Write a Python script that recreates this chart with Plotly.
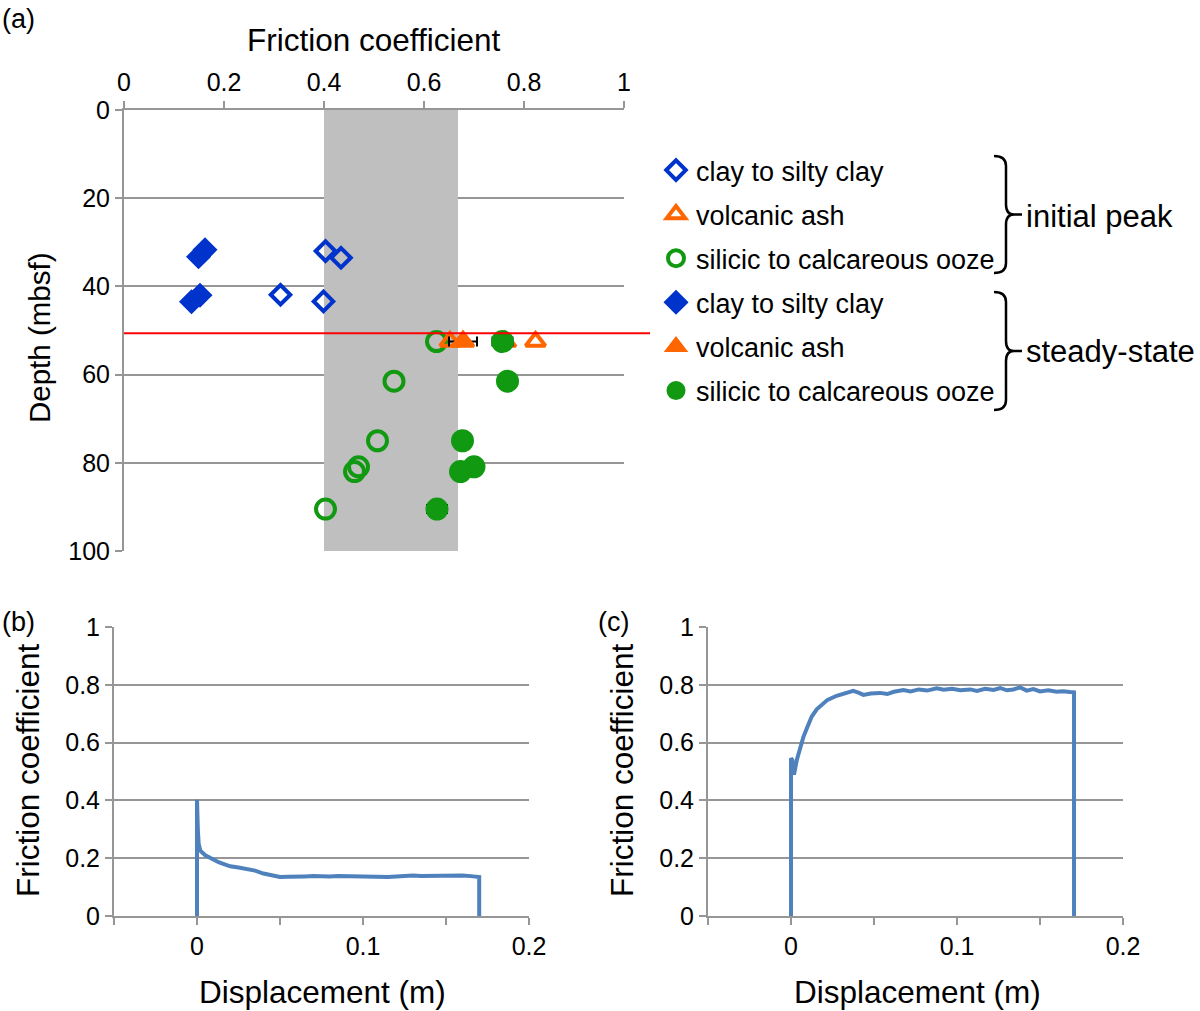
import plotly.graph_objects as go

W, H = 1200, 1011
def px(x): return x / W
def py(y): return 1 - y / H

# ---------------- data: panel (a) ----------------
clay_depth_init = [32.0, 33.5, 41.9, 43.4]
clay_mu_init = [0.403, 0.434, 0.313, 0.399]
clay_depth_ss = [31.7, 33.3, 42.0, 43.5]
clay_mu_ss = [0.162, 0.149, 0.152, 0.135]

ash_depth_init = [52.5, 52.5]
ash_mu_init = [0.652, 0.823]
ash_depth_ss = [52.5, 52.5]
ash_mu_ss = [0.678, 0.762]
ash_err_ss = [0.028, 0.0]

ooze_depth = [52.5, 61.5, 75.0, 80.9, 82.0, 90.5]
ooze_mu_init = [0.625, 0.540, 0.507, 0.469, 0.461, 0.403]
ooze_mu_ss = [0.757, 0.767, 0.677, 0.700, 0.673, 0.626]
ooze_err_ss = [0.02, 0.0, 0.0, 0.0, 0.0, 0.02]

shade_range = [0.4, 0.668]
boundary_depth = 50.6

# ---------------- data: panel (b) ----------------
disp_b = [0, 0, 0.0005, 0.001, 0.002, 0.005, 0.008, 0.01, 0.013, 0.015, 0.018, 0.02,
          0.025, 0.03, 0.035, 0.04, 0.045, 0.05, 0.055, 0.06, 0.065, 0.07, 0.075, 0.08,
          0.085, 0.09, 0.095, 0.10, 0.105, 0.11, 0.115, 0.12, 0.125, 0.13, 0.135, 0.14,
          0.145, 0.15, 0.155, 0.16, 0.165, 0.170, 0.170]
fric_b = [0, 0.402, 0.30, 0.25, 0.226, 0.21, 0.200, 0.194, 0.186, 0.182, 0.176, 0.172,
          0.168, 0.163, 0.157, 0.147, 0.140, 0.135, 0.136, 0.135, 0.137, 0.138, 0.136, 0.137,
          0.138, 0.137, 0.138, 0.137, 0.135, 0.134, 0.135, 0.137, 0.139, 0.140, 0.138, 0.139,
          0.140, 0.140, 0.141, 0.140, 0.138, 0.135, 0]

# ---------------- data: panel (c) ----------------
disp_c = [0, 0, 0.0008, 0.0018, 0.0035, 0.0055, 0.0075, 0.0095, 0.0125, 0.0155, 0.0185,
          0.022, 0.0275, 0.033, 0.0375, 0.041, 0.0436, 0.048, 0.0536, 0.058, 0.062, 0.0677,
          0.072, 0.077, 0.082, 0.0878, 0.092, 0.097, 0.102, 0.108, 0.112, 0.117, 0.122,
          0.126, 0.130, 0.134, 0.138, 0.142, 0.146, 0.150, 0.155, 0.160, 0.164, 0.168,
          0.1705, 0.1705]
fric_c = [0, 0.546, 0.54, 0.489, 0.54, 0.586, 0.62, 0.649, 0.69, 0.715, 0.732,
          0.748, 0.762, 0.770, 0.779, 0.772, 0.765, 0.770, 0.772, 0.768, 0.776, 0.782,
          0.777, 0.784, 0.780, 0.788, 0.783, 0.786, 0.781, 0.784, 0.779, 0.786, 0.782,
          0.789, 0.781, 0.784, 0.791, 0.780, 0.785, 0.777, 0.781, 0.776, 0.778, 0.775,
          0.774, 0]

BLUE = "#0033cc"
ORANGE = "#ff6600"
GREEN = "#119911"
LINEBLUE = "#4f81bd"
GRID = "#969696"
FONT = "Liberation Sans, Arial, sans-serif"

fig = go.Figure()

def add_pts(name, x, y, symbol, color, filled, rank, err=None, size=17):
    marker = dict(symbol=symbol, size=size,
                  color=color if filled else "rgba(0,0,0,0)",
                  line=dict(color=color, width=3 if filled else 4))
    kw = {}
    if err is not None:
        kw["error_x"] = dict(type="data", array=err, color="black", thickness=2, width=5)
    fig.add_trace(go.Scatter(x=x, y=y, mode="markers", name=name, marker=marker,
                             legendgroup=str(rank), legendrank=rank,
                             xaxis="x", yaxis="y", cliponaxis=False, **kw))

add_pts("clay to silty clay", clay_mu_init, clay_depth_init, "diamond", BLUE, False, 1, size=15)
add_pts("silicic to calcareous ooze", ooze_mu_init, ooze_depth, "circle", GREEN, False, 3, size=19)
add_pts("volcanic ash", ash_mu_init, ash_depth_init, "triangle-up", ORANGE, False, 2, size=17)
add_pts("clay to silty clay", clay_mu_ss, clay_depth_ss, "diamond", BLUE, True, 4, size=16)
add_pts("volcanic ash", ash_mu_ss, ash_depth_ss, "triangle-up", ORANGE, True, 5, err=ash_err_ss, size=19)
add_pts("silicic to calcareous ooze", ooze_mu_ss, ooze_depth, "circle", GREEN, True, 6, err=ooze_err_ss, size=20)

fig.add_trace(go.Scatter(x=disp_b, y=fric_b, mode="lines", line=dict(color=LINEBLUE, width=4),
                         xaxis="x2", yaxis="y2", showlegend=False))
fig.add_trace(go.Scatter(x=disp_c, y=fric_c, mode="lines", line=dict(color=LINEBLUE, width=4),
                         xaxis="x3", yaxis="y3", showlegend=False))

tickfont = dict(family=FONT, size=25, color="black")
axis_common = dict(showline=True, linecolor=GRID, linewidth=2, ticks="outside", ticklen=7,
                   tickcolor=GRID, tickwidth=2, tickfont=tickfont, zeroline=False,
                   automargin=False)

disp_ticks = [-0.05, 0, 0.05, 0.1, 0.15, 0.2]
disp_labels = ["", "0", "", "0.1", "", "0.2"]

fig.update_layout(
    template="none",
    width=W, height=H, autosize=False,
    margin=dict(l=0, r=0, t=0, b=0, pad=0),
    paper_bgcolor="white", plot_bgcolor="white",
    font=dict(family=FONT, color="black"),
    xaxis=dict(domain=[px(124), px(624)], range=[0, 1], dtick=0.2, side="top",
               anchor="y", showgrid=False, **axis_common),
    yaxis=dict(domain=[py(551), py(110)], range=[100, 0], dtick=20, anchor="x",
               showgrid=True, gridcolor=GRID, gridwidth=2, **axis_common),
    xaxis2=dict(domain=[px(114), px(529)], range=[-0.05, 0.2], tickvals=disp_ticks,
                ticktext=disp_labels, anchor="y2", showgrid=False, **axis_common),
    yaxis2=dict(domain=[py(916), py(627)], range=[0, 1], dtick=0.2, anchor="x2",
                showgrid=True, gridcolor=GRID, gridwidth=2, **axis_common),
    xaxis3=dict(domain=[px(708), px(1123)], range=[-0.05, 0.2], tickvals=disp_ticks,
                ticktext=disp_labels, anchor="y3", showgrid=False, **axis_common),
    yaxis3=dict(domain=[py(916), py(627)], range=[0, 1], dtick=0.2, anchor="x3",
                showgrid=True, gridcolor=GRID, gridwidth=2, **axis_common),
    showlegend=True,
    legend=dict(x=px(656), y=py(146), xanchor="left", yanchor="top",
                font=dict(family=FONT, size=27, color="black"),
                traceorder="grouped", tracegroupgap=6, bgcolor="rgba(0,0,0,0)",
                borderwidth=0, itemsizing="trace"),
)

shapes = [
    dict(type="rect", xref="x", yref="y", x0=shade_range[0], x1=shade_range[1], y0=0, y1=100,
         fillcolor="#bfbfbf", line=dict(width=0), layer="between"),
    dict(type="line", xref="paper", yref="y", x0=px(124), x1=px(650), y0=boundary_depth,
         y1=boundary_depth, line=dict(color="red", width=2)),
]

def brace(top, bottom, xe=994, xs=1006, xt=1022):
    mid = (top + bottom) / 2
    r = 10
    p = (f"M {px(xe)},{py(top)} Q {px(xs)},{py(top)} {px(xs)},{py(top + r)} "
         f"L {px(xs)},{py(mid - r)} Q {px(xs)},{py(mid)} {px(xs + 8)},{py(mid)} "
         f"L {px(xt)},{py(mid)} M {px(xs + 8)},{py(mid)} Q {px(xs)},{py(mid)} {px(xs)},{py(mid + r)} "
         f"L {px(xs)},{py(bottom - r)} Q {px(xs)},{py(bottom)} {px(xe)},{py(bottom)}")
    return dict(type="path", xref="paper", yref="paper", path=p,
                line=dict(color="black", width=2.5))

shapes.append(brace(156, 273))
shapes.append(brace(292, 410))
fig.update_layout(shapes=shapes)

def ann(text, x, y, size=27, xanchor="center", angle=0):
    return dict(text=text, x=x, y=y, xref="paper", yref="paper", showarrow=False,
                xanchor=xanchor, yanchor="middle", textangle=angle,
                font=dict(family=FONT, size=size, color="black"))

fig.update_layout(annotations=[
    ann("(a)", px(0), py(19), xanchor="left"),
    ann("(b)", px(0), py(622), xanchor="left"),
    ann("(c)", px(596), py(622), xanchor="left"),
    ann("Friction coefficient", px(374), py(40), size=31.5),
    ann("Depth (mbsf)", px(40), py(338), size=29.5, angle=-90),
    ann("Friction coefficient", px(28), py(770), size=31.5, angle=-90),
    ann("Friction coefficient", px(622), py(770), size=31.5, angle=-90),
    ann("Displacement (m)", px(322), py(992), size=31.5),
    ann("Displacement (m)", px(917), py(992), size=31.5),
    ann("initial peak", px(1024), py(216), size=31),
    ann("steady-state", px(1024), py(351), size=31),
])
for a in fig.layout.annotations:
    if a.text in ("initial peak", "steady-state"):
        a.xanchor = "left"

# remove the browser's default 8px body margin so the figure fills the window exactly
fig.write_html("out.html", config={"displayModeBar": False},
               post_script="document.body.style.margin='0px';document.body.style.overflow='hidden';")
